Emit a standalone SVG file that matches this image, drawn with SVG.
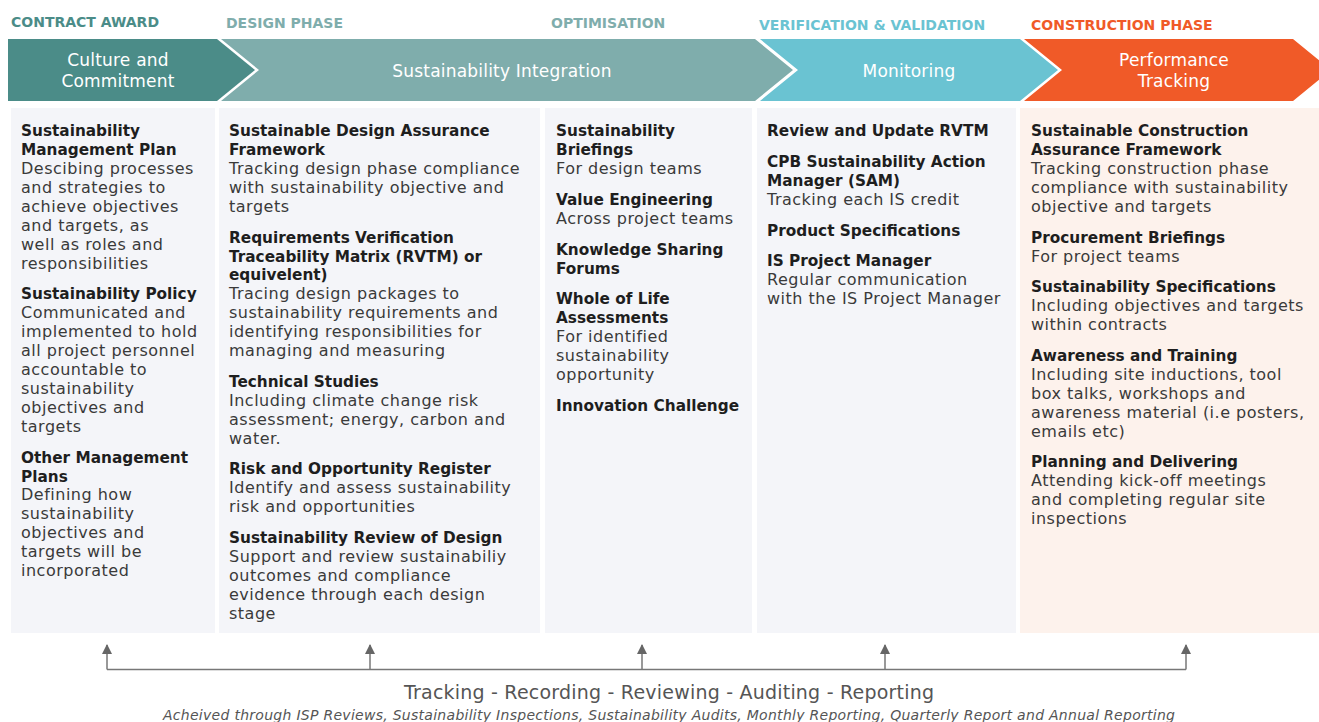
<svg xmlns="http://www.w3.org/2000/svg" width="1319" height="722" viewBox="0 0 1319 722">
<defs>
<style>
.hd{font-family:"DejaVu Sans",sans-serif;font-weight:bold;font-size:14px}
.cv{font-family:"DejaVu Sans",sans-serif;font-size:17px;fill:#fff;text-anchor:middle;letter-spacing:0.2px}
.t{font-family:"DejaVu Sans",sans-serif;font-weight:bold;font-size:15.3px;fill:#1e1e1e}
.b{font-family:"DejaVu Sans",sans-serif;font-size:16px;fill:#3a3a3a;letter-spacing:0.5px}
.pn{fill:#f4f5f9}
.pn5{fill:#fdf2ec}
.ln{stroke:#777;stroke-width:1.5;fill:none}
</style>
<marker id="ah" viewBox="0 0 10 10" refX="9" refY="5" markerWidth="10" markerHeight="10" markerUnits="userSpaceOnUse" orient="auto">
<path d="M0,0 L10,5 L0,10 z" fill="#666"/>
</marker>
</defs>
<rect width="1319" height="722" fill="#fff"/>

<g id="headers">
<text class="hd" x="11" y="27" fill="#4b8c88">CONTRACT AWARD</text>
<text class="hd" x="226" y="28" fill="#7fadac">DESIGN PHASE</text>
<text class="hd" x="551" y="28" fill="#7fadac">OPTIMISATION</text>
<text class="hd" x="759" y="30" fill="#6ac3d2">VERIFICATION &amp; VALIDATION</text>
<text class="hd" x="1031" y="30" fill="#f05a28">CONSTRUCTION PHASE</text>
</g>

<g id="stage-culture">
<polygon points="8,39 217,39 255,70 217,101 8,101" fill="#4b8c88"/>
<text class="cv" x="118" y="66">Culture and</text>
<text class="cv" x="118" y="87">Commitment</text>
</g>
<g id="stage-integration">
<polygon points="221,39 755,39 793,70 755,101 221,101 259,70" fill="#7fadac"/>
<text class="cv" x="502" y="77">Sustainability Integration</text>
</g>
<g id="stage-monitoring">
<polygon points="760,39 1020,39 1058,70 1020,101 760,101 798,70" fill="#6ac3d2"/>
<text class="cv" x="909" y="77">Monitoring</text>
</g>
<g id="stage-performance">
<polygon points="1024,39 1293,39 1331,70 1293,101 1024,101 1062,70" fill="#f05a28"/>
<text class="cv" x="1174" y="66">Performance</text>
<text class="cv" x="1174" y="87">Tracking</text>
</g>

<g id="col-contract-award">
<rect class="pn" x="11" y="108" width="204" height="525"/>
<text class="t" x="21" y="136">Sustainability</text>
<text class="t" x="21" y="155">Management Plan</text>
<text class="b" x="21" y="174">Descibing processes</text>
<text class="b" x="21" y="193">and strategies to</text>
<text class="b" x="21" y="212">achieve objectives</text>
<text class="b" x="21" y="231">and targets, as</text>
<text class="b" x="21" y="250">well as roles and</text>
<text class="b" x="21" y="269">responsibilities</text>
<text class="t" x="21" y="299">Sustainability Policy</text>
<text class="b" x="21" y="318">Communicated and</text>
<text class="b" x="21" y="337">implemented to hold</text>
<text class="b" x="21" y="356">all project personnel</text>
<text class="b" x="21" y="375">accountable to</text>
<text class="b" x="21" y="394">sustainability</text>
<text class="b" x="21" y="413">objectives and</text>
<text class="b" x="21" y="432">targets</text>
<text class="t" x="21" y="463">Other Management</text>
<text class="t" x="21" y="482">Plans</text>
<text class="b" x="21" y="500">Defining how</text>
<text class="b" x="21" y="519">sustainability</text>
<text class="b" x="21" y="538">objectives and</text>
<text class="b" x="21" y="557">targets will be</text>
<text class="b" x="21" y="576">incorporated</text>
</g>

<g id="col-design-phase">
<rect class="pn" x="219" y="108" width="321" height="525"/>
<text class="t" x="229" y="136">Sustainable Design Assurance</text>
<text class="t" x="229" y="155">Framework</text>
<text class="b" x="229" y="174">Tracking design phase compliance</text>
<text class="b" x="229" y="193">with sustainability objective and</text>
<text class="b" x="229" y="212">targets</text>
<text class="t" x="229" y="243">Requirements Verification</text>
<text class="t" x="229" y="262">Traceability Matrix (RVTM) or</text>
<text class="t" x="229" y="280">equivelent)</text>
<text class="b" x="229" y="299">Tracing design packages to</text>
<text class="b" x="229" y="318">sustainability requirements and</text>
<text class="b" x="229" y="337">identifying responsibilities for</text>
<text class="b" x="229" y="356">managing and measuring</text>
<text class="t" x="229" y="387">Technical Studies</text>
<text class="b" x="229" y="406">Including climate change risk</text>
<text class="b" x="229" y="425">assessment; energy, carbon and</text>
<text class="b" x="229" y="444">water.</text>
<text class="t" x="229" y="474">Risk and Opportunity Register</text>
<text class="b" x="229" y="493">Identify and assess sustainability</text>
<text class="b" x="229" y="512">risk and opportunities</text>
<text class="t" x="229" y="543">Sustainability Review of Design</text>
<text class="b" x="229" y="562">Support and review sustainabiliy</text>
<text class="b" x="229" y="581">outcomes and compliance</text>
<text class="b" x="229" y="600">evidence through each design</text>
<text class="b" x="229" y="619">stage</text>
</g>

<g id="col-optimisation">
<rect class="pn" x="545" y="108" width="207" height="525"/>
<text class="t" x="556" y="136">Sustainability</text>
<text class="t" x="556" y="155">Briefings</text>
<text class="b" x="556" y="174">For design teams</text>
<text class="t" x="556" y="205">Value Engineering</text>
<text class="b" x="556" y="224">Across project teams</text>
<text class="t" x="556" y="255">Knowledge Sharing</text>
<text class="t" x="556" y="274">Forums</text>
<text class="t" x="556" y="304">Whole of Life</text>
<text class="t" x="556" y="323">Assessments</text>
<text class="b" x="556" y="342">For identified</text>
<text class="b" x="556" y="361">sustainability</text>
<text class="b" x="556" y="380">opportunity</text>
<text class="t" x="556" y="411">Innovation Challenge</text>
</g>

<g id="col-verification">
<rect class="pn" x="757" y="108" width="259" height="525"/>
<text class="t" x="767" y="136">Review and Update RVTM</text>
<text class="t" x="767" y="167">CPB Sustainability Action</text>
<text class="t" x="767" y="186">Manager (SAM)</text>
<text class="b" x="767" y="205">Tracking each IS credit</text>
<text class="t" x="767" y="236">Product Specifications</text>
<text class="t" x="767" y="266">IS Project Manager</text>
<text class="b" x="767" y="285">Regular communication</text>
<text class="b" x="767" y="304">with the IS Project Manager</text>
</g>

<g id="col-construction">
<rect class="pn5" x="1020" y="108" width="299" height="525"/>
<text class="t" x="1031" y="136">Sustainable Construction</text>
<text class="t" x="1031" y="155">Assurance Framework</text>
<text class="b" x="1031" y="174">Tracking construction phase</text>
<text class="b" x="1031" y="193">compliance with sustainability</text>
<text class="b" x="1031" y="212">objective and targets</text>
<text class="t" x="1031" y="243">Procurement Briefings</text>
<text class="b" x="1031" y="262">For project teams</text>
<text class="t" x="1031" y="292">Sustainability Specifications</text>
<text class="b" x="1031" y="311">Including objectives and targets</text>
<text class="b" x="1031" y="330">within contracts</text>
<text class="t" x="1031" y="361">Awareness and Training</text>
<text class="b" x="1031" y="380">Including site inductions, tool</text>
<text class="b" x="1031" y="399">box talks, workshops and</text>
<text class="b" x="1031" y="418">awareness material (i.e posters,</text>
<text class="b" x="1031" y="437">emails etc)</text>
<text class="t" x="1031" y="467">Planning and Delivering</text>
<text class="b" x="1031" y="486">Attending kick-off meetings</text>
<text class="b" x="1031" y="505">and completing regular site</text>
<text class="b" x="1031" y="524">inspections</text>
</g>

<g id="connectors">
<path class="ln" d="M107,669.5 H1186"/>
<path class="ln" d="M107,669.5 V645" marker-end="url(#ah)"/>
<path class="ln" d="M370,669.5 V645" marker-end="url(#ah)"/>
<path class="ln" d="M642,669.5 V645" marker-end="url(#ah)"/>
<path class="ln" d="M885,669.5 V645" marker-end="url(#ah)"/>
<path class="ln" d="M1186,669.5 V645" marker-end="url(#ah)"/>
</g>

<g id="footer">
<text x="669" y="699" text-anchor="middle" font-family="DejaVu Sans, sans-serif" font-size="19" fill="#555" textLength="530" lengthAdjust="spacing">Tracking - Recording - Reviewing - Auditing - Reporting</text>
<text x="669" y="720" text-anchor="middle" font-family="DejaVu Sans, sans-serif" font-size="14" font-style="italic" fill="#555" textLength="1012" lengthAdjust="spacing">Acheived through ISP Reviews, Sustainability Inspections, Sustainability Audits, Monthly Reporting, Quarterly Report and Annual Reporting</text>
</g>
</svg>
